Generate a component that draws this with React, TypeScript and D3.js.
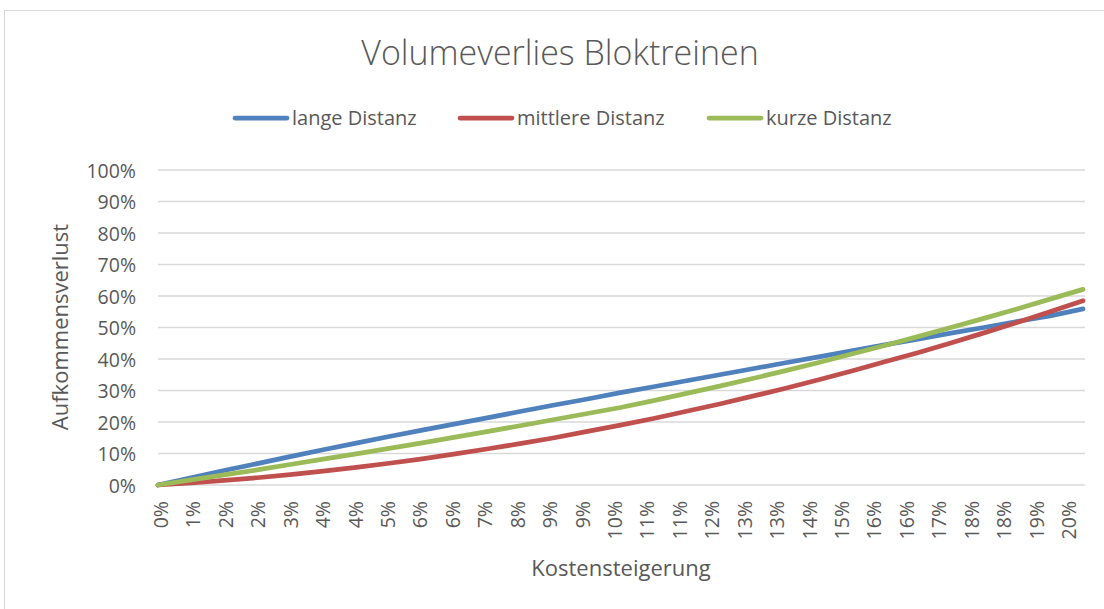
import React, { useEffect, useRef } from 'react';
import * as d3 from 'd3';

// x categories (Kostensteigerung), as printed on the axis
const xLabels = [
  '0%', '1%', '2%', '2%', '3%', '4%', '4%', '5%', '6%', '6%', '7%', '8%', '9%', '9%', '10%',
  '11%', '11%', '12%', '13%', '13%', '14%', '15%', '16%', '16%', '17%', '18%', '18%', '19%', '20%',
];

const yTicks = [0, 10, 20, 30, 40, 50, 60, 70, 80, 90, 100];

// Aufkommensverlust in %
const langeDistanz = [
  0, 2.3, 4.6, 6.8, 9.0, 11.2, 13.3, 15.4, 17.4, 19.4, 21.4, 23.4, 25.4, 27.3, 29.3,
  31.2, 33.1, 35.0, 36.9, 38.8, 40.7, 42.6, 44.5, 46.3, 48.2, 50.0, 51.9, 53.7, 55.9,
];
const mittlereDistanz = [
  0, 0.7, 1.5, 2.3, 3.3, 4.4, 5.6, 6.9, 8.3, 9.9, 11.5, 13.2, 15.0, 17.0, 19.0,
  21.1, 23.4, 25.7, 28.2, 30.7, 33.4, 36.2, 39.1, 42.0, 45.1, 48.3, 51.6, 55.0, 58.5,
];
const kurzeDistanz = [
  0, 1.6, 3.2, 4.8, 6.5, 8.2, 9.9, 11.6, 13.4, 15.2, 17.0, 18.9, 20.8, 22.7, 24.6,
  26.8, 29.1, 31.4, 33.8, 36.3, 38.9, 41.6, 44.3, 47.1, 50.0, 52.9, 55.9, 59.0, 62.1,
];

const seriesNames = ['lange Distanz', 'mittlere Distanz', 'kurze Distanz'];
const seriesColors = ['#4f81bd', '#c0504d', '#9bbb59'];

const App = () => {
  const svgRef = useRef<SVGSVGElement>(null);

  useEffect(() => {
    const svg = d3.select(svgRef.current);
    const width = 1104;
    const height = 609;
    const margin = { top: 170, right: 19, bottom: 124, left: 158 };
    const font = "'Open Sans', sans-serif";
    const textColor = '#595959';

    svg.attr('width', width).attr('height', height);

    // chart border
    svg
      .append('rect')
      .attr('x', 4.5)
      .attr('y', 10.5)
      .attr('width', width + 10)
      .attr('height', height + 10)
      .attr('fill', 'white')
      .attr('stroke', '#d9d9d9')
      .attr('stroke-width', 1);

    const xScale = d3
      .scalePoint<number>()
      .domain(d3.range(xLabels.length))
      .range([margin.left, width - margin.right - 2]);

    // the rotated labels sit on a slightly tighter spacing than the points
    const labelScale = d3
      .scalePoint<number>()
      .domain(d3.range(xLabels.length))
      .range([161, 1069]);

    const yScale = d3
      .scaleLinear()
      .domain([0, 100])
      .range([height - margin.bottom, margin.top]);

    // gridlines
    svg
      .append('g')
      .selectAll('line')
      .data(yTicks)
      .enter()
      .append('line')
      .attr('x1', margin.left)
      .attr('x2', width - margin.right)
      .attr('y1', d => yScale(d))
      .attr('y2', d => yScale(d))
      .attr('stroke', '#d9d9d9')
      .attr('stroke-width', 1.5);

    // y axis labels
    const yAxis = svg
      .append('g')
      .attr('transform', `translate(${margin.left - 22},0)`)
      .call(d3.axisLeft(yScale).tickValues(yTicks).tickFormat(d => `${d}%`).tickSize(0).tickPadding(0));
    yAxis.select('.domain').remove();
    yAxis
      .selectAll('text')
      .attr('fill', textColor)
      .style('font-family', font)
      .style('font-size', '19.5px')
      .attr('dy', '0.36em');

    // x axis labels (rotated)
    svg
      .append('g')
      .selectAll('text')
      .data(xLabels)
      .enter()
      .append('text')
      .attr('transform', (d, i) => `translate(${(labelScale(i) as number) + 7},${height - margin.bottom + 16}) rotate(-90)`)
      .attr('text-anchor', 'end')
      .attr('fill', textColor)
      .style('font-family', font)
      .style('font-size', '19.5px')
      .text(d => d);

    // lines
    const line = d3
      .line<number>()
      .x((d, i) => xScale(i) as number)
      .y(d => yScale(d));

    [langeDistanz, mittlereDistanz, kurzeDistanz].forEach((values, k) => {
      svg
        .append('path')
        .datum(values)
        .attr('d', line)
        .attr('fill', 'none')
        .attr('stroke', seriesColors[k])
        .attr('stroke-width', 4.75)
        .attr('stroke-linecap', 'round')
        .attr('stroke-linejoin', 'round');
    });

    // title
    svg
      .append('text')
      .attr('x', 560)
      .attr('y', 65)
      .attr('text-anchor', 'middle')
      .attr('fill', textColor)
      .style('font-family', font)
      .style('font-size', '34px')
      .style('font-weight', 300)
      .text('Volumeverlies Bloktreinen');

    // legend
    const legendX = [233, 458, 707];
    const legend = svg
      .selectAll('.legend')
      .data(seriesNames)
      .enter()
      .append('g')
      .attr('class', 'legend')
      .attr('transform', (d, i) => `translate(${legendX[i]},118)`);

    legend
      .append('line')
      .attr('x1', 2)
      .attr('x2', 54)
      .attr('stroke', (d, i) => seriesColors[i])
      .attr('stroke-width', 4.75)
      .attr('stroke-linecap', 'round');

    legend
      .append('text')
      .attr('x', 59)
      .attr('y', 7)
      .attr('fill', textColor)
      .style('font-family', font)
      .style('font-size', '20px')
      .text(d => d);

    // axis titles
    svg
      .append('text')
      .attr('x', 621)
      .attr('y', 576)
      .attr('text-anchor', 'middle')
      .attr('fill', textColor)
      .style('font-family', font)
      .style('font-size', '22px')
      .text('Kostensteigerung');

    svg
      .append('text')
      .attr('transform', 'translate(68,327) rotate(-90)')
      .attr('text-anchor', 'middle')
      .attr('fill', textColor)
      .style('font-family', font)
      .style('font-size', '22px')
      .text('Aufkommensverlust');

    return () => {
      svg.selectAll('*').remove();
    };
  }, []);

  return (
    <div style={{ position: 'fixed', left: 0, top: 0 }}>
      <svg ref={svgRef} style={{ display: 'block' }}></svg>
    </div>
  );
};

export default App;
